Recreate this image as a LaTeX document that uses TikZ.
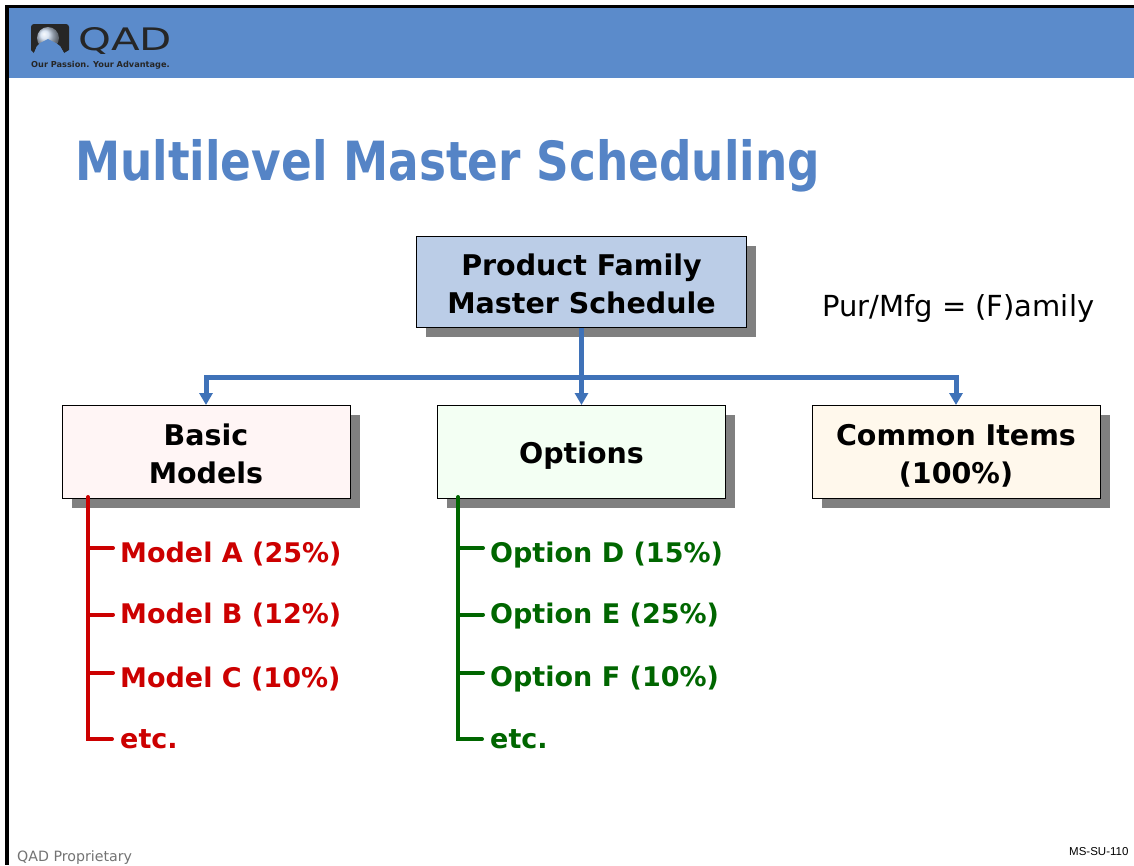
\documentclass[tikz,border=0pt]{standalone}
\usepackage{fontspec}
\setmainfont{DejaVu Sans}
\newfontfamily\footfont{Liberation Sans}
\usepackage{tikz}
\usetikzlibrary{shapes.geometric, arrows.meta, calc, positioning, shadows}
\definecolor{headblue}{HTML}{5B8BCB}
\definecolor{titleblue}{HTML}{5584C6}
\definecolor{linkblue}{HTML}{3F72B8}
\definecolor{modelred}{HTML}{CC0000}
\definecolor{optiongreen}{HTML}{006600}
\newcommand{\familytop}{\rule{0pt}{25.7pt}}
\newcommand{\leveltop}{\rule{0pt}{29.7pt}}
\tikzstyle{block} = [rectangle, draw=black, line width=1pt, inner sep=0pt, align=center, font=\fontsize{28.5}{38}\selectfont\bfseries, drop shadow={shadow xshift=9.5pt, shadow yshift=-9.5pt, fill=black!50, opacity=1}]
\tikzstyle{family} = [block, minimum width=330pt, minimum height=91pt, fill={rgb,255:red,187;green,205;blue,231}]
\tikzstyle{level} = [block, minimum width=288pt, minimum height=92.5pt]
\tikzstyle{arrow} = [line width=5pt, linkblue, -{Triangle[width=13pt,length=12pt]}]
\tikzstyle{redline} = [line width=4pt, modelred, line cap=round]
\tikzstyle{greenline} = [line width=4pt, optiongreen, line cap=round]
\tikzstyle{redtext} = [anchor=base west, inner sep=0pt, modelred, font=\fontsize{27}{32}\selectfont\bfseries]
\tikzstyle{greentext} = [anchor=base west, inner sep=0pt, optiongreen, font=\fontsize{27}{32}\selectfont\bfseries]
\begin{document}
\begin{tikzpicture}[x=1pt, y=-1pt]
		\useasboundingbox (0,0) rectangle (1134,865);
		\fill [white] (0,0) rectangle (1134,865);
		% header band and frame
		\fill [headblue] (5,5) rectangle (1134,78);
		\fill [black] (5,5) rectangle (1134,8);
		\fill [black] (5,5) rectangle (9,865);
		% logo
		\fill [black!85] (31,27) arc (180:270:3) -- (66,24) arc (270:360:3) -- (69,50) -- (64,53) -- (60,46) -- (37,46) -- (34,53) -- (31,50) -- cycle;
		\shade [ball color=white!70!headblue] (48,38) circle (11);
		\fill [headblue] (37,46) -- (40,43) -- (48,39) -- (56,43) -- (60,46) -- (64,53) -- (34,53) -- cycle;
		\node (LogoName) [anchor=base west, inner sep=0pt, black!85] at (78,50) {\fontsize{31}{31}\selectfont\scalebox{1.35}[1]{QAD}};
		\node (LogoTag) [anchor=base west, inner sep=0pt, black!85] at (31,67) {\fontsize{8.2}{10}\selectfont\bfseries Our Passion. Your Advantage.};
		% title and note
		\node (Title) [anchor=base west, inner sep=0pt, titleblue] at (75,180) {\fontsize{54}{60}\selectfont\bfseries\scalebox{0.84}[1]{Multilevel Master Scheduling}};
		\node (Family) [family] at (581.5,282) {\familytop Product Family\\Master Schedule};
		\node (Note) [anchor=base west, inner sep=0pt] at (822,316) {\fontsize{29}{34}\selectfont Pur/Mfg = (F)amily};
		% second level
		\node (Options) [level, below = 77pt of Family, fill={rgb,255:red,243;green,255;blue,243}] {\leveltop Options};
		\node (Basic) [level, left = 86.5pt of Options, fill={rgb,255:red,255;green,245;blue,245}] {\leveltop Basic\\Models\rule[-4pt]{0pt}{4pt}};
		\node (Common) [level, right = 85.5pt of Options, fill={rgb,255:red,255;green,248;blue,236}] {\leveltop Common Items\\(100\%)};
		\coordinate (Bus) at ($(Family.south)+(0,49)$);
		\draw [arrow] (Family.south) -- (Options.north);
		\draw [arrow] (Bus) -| (Basic.north);
		\draw [arrow] (Bus) -| (Common.north);
		% model list
		\node (ModelA) [redtext] at (120,562) {Model A (25\%)};
		\node (ModelB) [redtext] at (120,623) {Model B (12\%)};
		\node (ModelC) [redtext] at (120,687) {Model C (10\%)};
		\node (ModelEtc) [redtext] at (120,748) {etc.};
		\coordinate (ModelTop) at (88,497);
		\coordinate (ModelBotA) at (88,548);
		\coordinate (ModelBotB) at (88,614.5);
		\coordinate (ModelBotC) at (88,673);
		\coordinate (ModelBotEtc) at (88,739);
		\draw [redline] (ModelTop) -- (ModelBotEtc) -- ($(ModelEtc.west |- ModelBotEtc)+(-8,0)$);
		\draw [redline] (ModelBotA) -- ($(ModelA.west |- ModelBotA)+(-7,0)$);
		\draw [redline] (ModelBotB) -- ($(ModelB.west |- ModelBotB)+(-7,0)$);
		\draw [redline] (ModelBotC) -- ($(ModelC.west |- ModelBotC)+(-7,0)$);
		% option list
		\node (OptionD) [greentext] at (490,562) {Option D (15\%)};
		\node (OptionE) [greentext] at (490,623) {Option E (25\%)};
		\node (OptionF) [greentext] at (490,686) {Option F (10\%)};
		\node (OptionEtc) [greentext] at (490,748) {etc.};
		\coordinate (OptionTop) at (458,497);
		\coordinate (OptionBotD) at (458,548);
		\coordinate (OptionBotE) at (458,614.5);
		\coordinate (OptionBotF) at (458,673);
		\coordinate (OptionBotEtc) at (458,739);
		\draw [greenline] (OptionTop) -- (OptionBotEtc) -- ($(OptionEtc.west |- OptionBotEtc)+(-8,0)$);
		\draw [greenline] (OptionBotD) -- ($(OptionD.west |- OptionBotD)+(-7,0)$);
		\draw [greenline] (OptionBotE) -- ($(OptionE.west |- OptionBotE)+(-7,0)$);
		\draw [greenline] (OptionBotF) -- ($(OptionF.west |- OptionBotF)+(-7,0)$);
		% footer
		\node (Proprietary) [anchor=base west, inner sep=0pt, black!55] at (17,861) {\fontsize{14.2}{18}\selectfont QAD Proprietary};
		\node (PageRef) [anchor=base west, inner sep=0pt] at (1069,855) {\fontsize{11.5}{14}\selectfont\footfont MS-SU-110};
\end{tikzpicture}
\end{document}
